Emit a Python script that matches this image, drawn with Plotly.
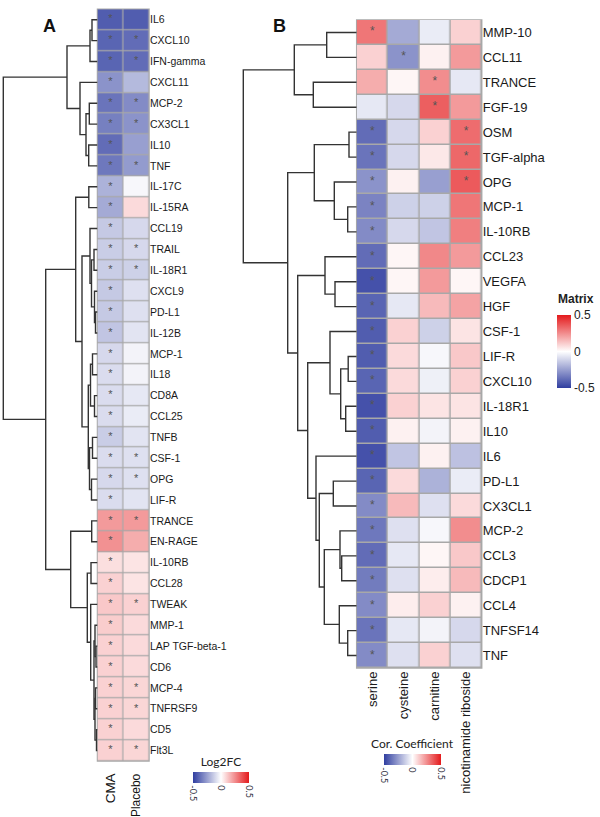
import plotly.graph_objects as go

W, H = 600, 817

# ---------------- Panel A data ----------------
genes_a = ["IL6", "CXCL10", "IFN-gamma", "CXCL11", "MCP-2", "CX3CL1", "IL10", "TNF",
           "IL-17C", "IL-15RA", "CCL19", "TRAIL", "IL-18R1", "CXCL9", "PD-L1", "IL-12B",
           "MCP-1", "IL18", "CD8A", "CCL25", "TNFB", "CSF-1", "OPG", "LIF-R",
           "TRANCE", "EN-RAGE", "IL-10RB", "CCL28", "TWEAK", "MMP-1", "LAP TGF-beta-1",
           "CD6", "MCP-4", "TNFRSF9", "CD5", "Flt3L"]
groups_a = ["CMA", "Placebo"]
group_label_sizes = [13.5, 12]
cma = [-0.42, -0.40, -0.40, -0.28, -0.36, -0.33, -0.38, -0.35,
       -0.20, -0.22, -0.14, -0.13, -0.13, -0.14, -0.14, -0.15,
       -0.10, -0.09, -0.09, -0.09, -0.13, -0.09, -0.10, -0.09,
       0.22, 0.24, 0.07, 0.10, 0.12, 0.11, 0.10,
       0.10, 0.10, 0.10, 0.10, 0.10]
placebo = [-0.42, -0.38, -0.38, -0.18, -0.30, -0.28, -0.25, -0.26,
           -0.02, 0.08, -0.10, -0.10, -0.12, -0.08, -0.08, -0.07,
           -0.03, -0.03, -0.06, -0.05, -0.07, -0.08, -0.08, -0.07,
           0.22, 0.18, 0.06, 0.06, 0.10, 0.08, 0.08,
           0.08, 0.09, 0.09, 0.08, 0.09]
sig_cma = [1] * 36
sig_placebo = [0, 1, 1, 0, 1, 1, 0, 1,
               0, 0, 0, 1, 1, 0, 0, 0,
               0, 0, 0, 0, 0, 1, 1, 0,
               1, 0, 0, 0, 1, 0, 0,
               0, 1, 1, 0, 1]
# row dendrogram of panel A (linkage: left child, right child, height)
link_a_left = [0, 36, 4, 6, 38, 3, 37, 8, 11, 14, 13, 44, 10, 16, 18, 49, 20, 22, 52, 51, 48, 43,
               24, 26, 30, 29, 32, 34, 62, 61, 28, 59, 58, 57, 42]
link_a_right = [1, 2, 5, 7, 39, 40, 41, 9, 12, 15, 45, 46, 47, 17, 19, 50, 21, 23, 53, 54, 55, 56,
                25, 27, 31, 60, 33, 35, 63, 64, 65, 66, 67, 68, 69]
link_a_height = [5.5, 7.5, 8.2, 8.8, 11.5, 17.5, 30.5, 8.7, 3.5, 2.0, 3.0, 6.0, 7.5, 5.0, 3.0, 7.0,
                 5.0, 6.0, 8.0, 9.2, 15.5, 21.8, 5.8, 6.5, 1.5, 2.5, 2.0, 1.0, 2.5, 3.5, 6.8,
                 10.2, 26.8, 51.8, 94.2]

# ---------------- Panel B data ----------------
genes_b = ["MMP-10", "CCL11", "TRANCE", "FGF-19", "OSM", "TGF-alpha", "OPG", "MCP-1",
           "IL-10RB", "CCL23", "VEGFA", "HGF", "CSF-1", "LIF-R", "CXCL10", "IL-18R1",
           "IL10", "IL6", "PD-L1", "CX3CL1", "MCP-2", "CCL3", "CDCP1", "CCL4",
           "TNFSF14", "TNF"]
metabolites = ["serine", "cysteine", "carnitine", "nicotinamide riboside"]
serine = [0.30, 0.10, 0.18, -0.06, -0.38, -0.36, -0.28, -0.32,
          -0.30, -0.38, -0.45, -0.40, -0.42, -0.42, -0.40, -0.45,
          -0.42, -0.45, -0.40, -0.30, -0.35, -0.38, -0.34, -0.30,
          -0.36, -0.30]
cysteine = [-0.22, -0.28, 0.02, -0.10, -0.10, -0.10, 0.03, -0.12,
            -0.10, 0.02, 0.02, -0.06, 0.10, 0.08, 0.08, 0.10,
            0.03, -0.15, 0.08, 0.15, -0.08, -0.06, -0.08, 0.04,
            -0.06, -0.08]
carnitine = [-0.05, 0.03, 0.25, 0.35, 0.10, 0.05, -0.25, -0.12,
             -0.15, 0.26, 0.22, 0.15, -0.12, -0.02, -0.04, 0.06,
             -0.03, 0.03, -0.20, -0.08, -0.02, 0.02, 0.04, 0.10,
             -0.03, 0.10]
nic_riboside = [0.10, 0.22, -0.06, 0.22, 0.32, 0.33, 0.36, 0.30,
                0.28, 0.22, 0.02, 0.20, 0.06, 0.12, 0.10, 0.06,
                0.03, -0.16, -0.05, 0.08, 0.25, 0.12, 0.15, 0.03,
                -0.10, -0.08]
sig_serine = [1, 0, 0, 0] + [1] * 22
sig_cysteine = [0, 1] + [0] * 24
sig_carnitine = [0, 0, 1, 1] + [0] * 22
sig_nic_riboside = [0, 0, 0, 0, 1, 1, 1] + [0] * 19
link_b_left = [0, 2, 26, 4, 7, 6, 29, 10, 9, 13, 15, 35, 12, 18, 21, 20, 24, 23, 41, 39, 17, 38,
               34, 32, 28]
link_b_right = [1, 3, 27, 5, 8, 30, 31, 11, 33, 14, 16, 36, 37, 19, 22, 40, 25, 42, 43, 44, 45,
                46, 47, 48, 49]
link_b_height = [30, 43.4, 62.4, 7.7, 9, 22.4, 42.4, 21.7, 31.7, 8.5, 11, 16, 26.7, 23.4, 15,
                 16.7, 9, 17.4, 32.4, 37.4, 40.7, 49, 59, 69, 113.4]

tick_vals = [-0.5, 0, 0.5]
tick_text = ["-0.5", "0", "0.5"]

colorscale = [[0.0, "rgb(48,62,160)"], [0.5, "rgb(255,255,255)"], [1.0, "rgb(228,26,28)"]]

SANS = "Liberation Sans, Arial, sans-serif"


def px(x):
    return x / W


def py(y):
    return 1 - y / H


def dendro(n, left, right, height):
    pos = {i: (float(i), 0.0) for i in range(n)}
    xs, ys = [], []
    for k, (a, b, h) in enumerate(zip(left, right, height)):
        ya, ha = pos[a]
        yb, hb = pos[b]
        xs += [ha, h, h, hb, None]
        ys += [ya, ya, yb, yb, None]
        pos[n + k] = ((ya + yb) / 2, h)
    return xs, ys


fig = go.Figure()

# ---- Panel A heatmap
za = [[c, p] for c, p in zip(cma, placebo)]
fig.add_trace(go.Heatmap(
    z=za, x=[0, 1], y=list(range(len(genes_a))), xaxis="x", yaxis="y",
    zmin=-0.5, zmax=0.5, colorscale=colorscale, xgap=1.2, ygap=1.2,
    colorbar=dict(orientation="h", title=dict(text="Log2FC", side="top",
                                               font=dict(family="Lato", size=12, color="#222")),
                  thickness=11, lenmode="pixels", len=56, x=px(221), xanchor="center",
                  y=py(757), yanchor="top", xpad=0, ypad=0, outlinewidth=0,
                  tickvals=tick_vals, ticktext=tick_text, tickangle=90,
                  tickfont=dict(family="Lato", size=9, color="#334"), ticks=""),
    hoverinfo="skip"))
sx, sy = [], []
for i in range(len(genes_a)):
    if sig_cma[i]:
        sx.append(0); sy.append(i)
    if sig_placebo[i]:
        sx.append(1); sy.append(i)
fig.add_trace(go.Scatter(x=sx, y=sy, mode="text", text=["*"] * len(sx), xaxis="x", yaxis="y",
                         textfont=dict(size=11, color="#555", family=SANS),
                         hoverinfo="skip", showlegend=False))

# ---- Panel A dendrogram
dx, dy = dendro(len(genes_a), link_a_left, link_a_right, link_a_height)
fig.add_trace(go.Scatter(x=dx, y=dy, mode="lines", xaxis="x2", yaxis="y2",
                         line=dict(color="#333", width=1.4), hoverinfo="skip", showlegend=False))

# ---- Panel B heatmap
zb = [list(r) for r in zip(serine, cysteine, carnitine, nic_riboside)]
fig.add_trace(go.Heatmap(
    z=zb, x=[0, 1, 2, 3], y=list(range(len(genes_b))), xaxis="x3", yaxis="y3",
    zmin=-0.5, zmax=0.5, colorscale=colorscale, xgap=1.5, ygap=1.5,
    colorbar=dict(thickness=14, lenmode="pixels", len=73, x=px(557), xanchor="left",
                  y=py(315), yanchor="top", xpad=0, ypad=0, outlinewidth=0,
                  tickvals=tick_vals, ticktext=tick_text, ticks="",
                  tickfont=dict(family=SANS, size=12, color="#222")),
    hoverinfo="skip"))
sig_b = [sig_serine, sig_cysteine, sig_carnitine, sig_nic_riboside]
bx, by = [], []
for j, col in enumerate(sig_b):
    for i, s in enumerate(col):
        if s:
            bx.append(j); by.append(i)
fig.add_trace(go.Scatter(x=bx, y=by, mode="text", text=["*"] * len(bx), xaxis="x3", yaxis="y3",
                         textfont=dict(size=12, color="#555", family=SANS),
                         hoverinfo="skip", showlegend=False))
# colorbar for correlation coefficient (legend only)
fig.add_trace(go.Scatter(
    x=[-10], y=[-10], mode="markers", xaxis="x3", yaxis="y3", showlegend=False, hoverinfo="skip",
    marker=dict(color=[0], cmin=-0.5, cmax=0.5, colorscale=colorscale, showscale=True,
                colorbar=dict(orientation="h",
                              title=dict(text="Cor. Coefficient", side="top",
                                         font=dict(family="Lato", size=12, color="#222")),
                              thickness=11, lenmode="pixels", len=57, x=px(412), xanchor="center",
                              y=py(739), yanchor="top", xpad=0, ypad=0, outlinewidth=0,
                              tickvals=tick_vals, ticktext=tick_text, tickangle=90,
                              tickfont=dict(family="Lato", size=9, color="#334"), ticks=""))))

# ---- Panel B dendrogram
ex, ey = dendro(len(genes_b), link_b_left, link_b_right, link_b_height)
fig.add_trace(go.Scatter(x=ex, y=ey, mode="lines", xaxis="x4", yaxis="y4",
                         line=dict(color="#333", width=1.4), hoverinfo="skip", showlegend=False))

label_font_a = dict(family=SANS, size=10.5, color="#1a1a1a")
label_font_b = dict(family=SANS, size=13, color="#1a1a1a")

annotations = [
    dict(text="<b>A</b>", x=px(41), y=py(14), xref="paper", yref="paper", showarrow=False,
         font=dict(family=SANS, size=18, color="#111")),
    dict(text="<b>B</b>", x=px(279), y=py(14), xref="paper", yref="paper", showarrow=False,
         font=dict(family=SANS, size=18, color="#111")),
    dict(text="<b>Matrix</b>", x=px(556), y=py(308), xref="paper", yref="paper",
         xanchor="left", yanchor="bottom", showarrow=False,
         font=dict(family=SANS, size=12, color="#222")),
]
for k, (g, s) in enumerate(zip(groups_a, group_label_sizes)):
    annotations.append(dict(text=g, x=k, y=py(771), xref="x", yref="paper", textangle=-90,
                            xanchor="center", yanchor="top", showarrow=False,
                            font=dict(family=SANS, size=s, color="#111")))

fig.update_layout(
    width=W, height=H, margin=dict(l=0, r=0, t=0, b=0),
    paper_bgcolor="white", plot_bgcolor="white", showlegend=False,
    xaxis=dict(domain=[px(97.5), px(149)], range=[-0.5, 1.5], anchor="y",
               showticklabels=False, ticks="",
               showgrid=False, zeroline=False, showline=False),
    yaxis=dict(domain=[py(761), py(9.3)], range=[len(genes_a) - 0.5, -0.5], anchor="x",
               side="right", tickvals=list(range(len(genes_a))), ticktext=genes_a, ticks="",
               tickfont=label_font_a, showgrid=False, zeroline=False, showline=False),
    xaxis2=dict(domain=[0, px(97.5)], range=[97.5, 0], anchor="y2", visible=False),
    yaxis2=dict(domain=[py(761), py(9.3)], range=[len(genes_a) - 0.5, -0.5], anchor="x2",
                visible=False),
    xaxis3=dict(domain=[px(356.7), px(481.7)], range=[-0.5, 3.5], anchor="y3",
                tickvals=[0, 1, 2, 3], ticktext=metabolites, tickangle=-90, ticks="",
                tickfont=label_font_b, showgrid=False, zeroline=False, showline=False),
    yaxis3=dict(domain=[py(668), py(20)], range=[len(genes_b) - 0.5, -0.5], anchor="x3",
                side="right", tickvals=list(range(len(genes_b))), ticktext=genes_b, ticks="",
                tickfont=label_font_b, showgrid=False, zeroline=False, showline=False),
    xaxis4=dict(domain=[0.38, px(356.7)], range=[356.7 - 0.38 * W, 0], anchor="y4", visible=False),
    yaxis4=dict(domain=[py(668), py(20)], range=[len(genes_b) - 0.5, -0.5], anchor="x4",
                visible=False),
    shapes=[
        dict(type="rect", xref="x domain", yref="y domain", x0=0, x1=1, y0=0, y1=1,
             fillcolor="#a8a8a8", line=dict(color="#a8a8a8", width=1.5), layer="below"),
        dict(type="rect", xref="x3 domain", yref="y3 domain", x0=0, x1=1, y0=0, y1=1,
             fillcolor="#a8a8a8", line=dict(color="#a8a8a8", width=1.5), layer="below"),
    ],
    annotations=annotations,
)

fig.write_html("out.html", config={"displayModeBar": False},
               post_script="document.body.style.margin='0';document.body.style.overflow='hidden';")
